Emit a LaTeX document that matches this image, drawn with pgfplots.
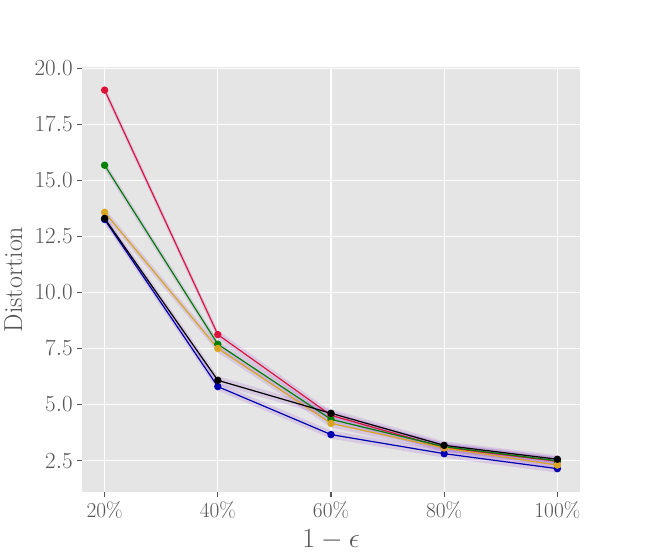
\documentclass[border=0pt]{standalone}
\usepackage{pgfplots}
\pgfplotsset{compat=1.18}
\usepackage{pgfplotstable}
\usepgfplotslibrary{fillbetween}
\definecolor{bgc}{HTML}{E5E5E5}
\definecolor{tickc}{HTML}{555555}
\definecolor{cred}{HTML}{DC143C}
\definecolor{cgreen}{HTML}{008000}
\definecolor{corange}{HTML}{DAA520}
\definecolor{cblue}{HTML}{0000B0}
\definecolor{band}{RGB}{140,60,200}

\pgfplotstableread{
x y lo hi
0 19.02 18.84 19.20
1 8.12 7.94 8.30
2 4.52 4.34 4.70
3 3.08 2.90 3.26
4 2.47 2.29 2.65
}\tred
\pgfplotstableread{
x y lo hi
0 15.67 15.49 15.85
1 7.69 7.51 7.87
2 4.34 4.16 4.52
3 3.12 2.94 3.30
4 2.49 2.31 2.67
}\tgreen
\pgfplotstableread{
x y lo hi
0 13.57 13.39 13.75
1 7.50 7.32 7.68
2 4.16 3.98 4.34
3 3.06 2.88 3.24
4 2.30 2.12 2.48
}\torange
\pgfplotstableread{
x y lo hi
0 13.30 13.12 13.48
1 6.08 5.90 6.26
2 4.61 4.43 4.79
3 3.18 3.00 3.36
4 2.56 2.38 2.74
}\tblack
\pgfplotstableread{
x y lo hi
0 13.25 13.07 13.43
1 5.80 5.62 5.98
2 3.66 3.48 3.84
3 2.81 2.63 2.99
4 2.14 1.96 2.32
}\tblue

\begin{document}
\begin{tikzpicture}
\begin{axis}[
  at={(0,0)}, anchor=south west,
  scale only axis, width=373.5pt, height=318.75pt,
  xmin=-0.2, xmax=4.2, ymin=1.10, ymax=20.05,
  axis background/.style={fill=bgc},
  axis line style={draw=none},
  xtick={0,1,2,3,4},
  xticklabels={20\%,40\%,60\%,80\%,100\%},
  ytick={2.5,5,7.5,10,12.5,15,17.5,20},
  yticklabel style={/pgf/number format/fixed, /pgf/number format/precision=1, /pgf/number format/fixed zerofill},
  tick pos=left, tick align=outside,
  major tick length=3.5pt,
  tick style={tickc, line width=0.8pt},
  grid=major,
  major grid style={white, line width=0.8pt},
  ticklabel style={font=\fontsize{16}{19}\selectfont, text=tickc},
  xlabel={$1-\epsilon$},
  ylabel={Distortion},
  label style={font=\fontsize{19.5}{23}\selectfont, text=tickc},
  xlabel style={at={(axis description cs:0.5,-0.1135)}, anchor=center},
  ylabel style={at={(axis description cs:-0.1380,0.5)}, anchor=center},
  every axis plot/.append style={line width=0.9pt},
  clip=false,
]
% bands
\addplot[name path=rU, draw=none, forget plot] table[x=x,y=hi]{\tred};
\addplot[name path=rL, draw=none, forget plot] table[x=x,y=lo]{\tred};
\addplot[fill=band, fill opacity=0.16, draw=none, forget plot] fill between[of=rU and rL];
\addplot[name path=gU, draw=none, forget plot] table[x=x,y=hi]{\tgreen};
\addplot[name path=gL, draw=none, forget plot] table[x=x,y=lo]{\tgreen};
\addplot[fill=band, fill opacity=0.16, draw=none, forget plot] fill between[of=gU and gL];
\addplot[name path=oU, draw=none, forget plot] table[x=x,y=hi]{\torange};
\addplot[name path=oL, draw=none, forget plot] table[x=x,y=lo]{\torange};
\addplot[fill=band, fill opacity=0.16, draw=none, forget plot] fill between[of=oU and oL];
\addplot[name path=kU, draw=none, forget plot] table[x=x,y=hi]{\tblack};
\addplot[name path=kL, draw=none, forget plot] table[x=x,y=lo]{\tblack};
\addplot[fill=band, fill opacity=0.16, draw=none, forget plot] fill between[of=kU and kL];
\addplot[name path=bU, draw=none, forget plot] table[x=x,y=hi]{\tblue};
\addplot[name path=bL, draw=none, forget plot] table[x=x,y=lo]{\tblue};
\addplot[fill=band, fill opacity=0.16, draw=none, forget plot] fill between[of=bU and bL];
% lines
\addplot[cred, mark=*, mark size=2.3pt] table[x=x,y=y]{\tred};
\addplot[cgreen, mark=*, mark size=2.3pt] table[x=x,y=y]{\tgreen};
\addplot[cblue, mark=*, mark size=2.3pt] table[x=x,y=y]{\tblue};
\addplot[corange, mark=*, mark size=2.3pt] table[x=x,y=y]{\torange};
\addplot[black, mark=*, mark size=2.3pt] table[x=x,y=y]{\tblack};
\end{axis}
\pgfresetboundingbox
\path[use as bounding box] (-61.5pt,-45.75pt) rectangle (422.25pt,369pt);
\end{tikzpicture}
\end{document}
